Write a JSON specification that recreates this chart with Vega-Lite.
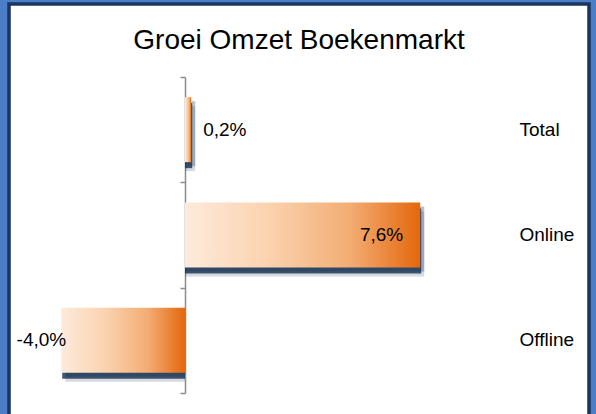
{
  "$schema": "https://vega.github.io/schema/vega-lite/v6.json",
  "width": 580,
  "height": 420,
  "autosize": {"type": "none"},
  "padding": {"left": 9, "top": 4, "right": 7, "bottom": -10},
  "background": "#4a7fc8",
  "title": {
    "text": "Groei Omzet Boekenmarkt",
    "anchor": "middle",
    "frame": "group",
    "baseline": "alphabetic",
    "offset": -73,
    "fontSize": 28,
    "font": "Liberation Sans",
    "fontWeight": "normal",
    "color": "#000000"
  },
  "data": {
    "values": [
      {"segment": "Total", "growth": 0.002},
      {"segment": "Online", "growth": 0.076},
      {"segment": "Offline", "growth": -0.04}
    ]
  },
  "resolve": {"axis": {"y": "independent"}},
  "layer": [
    {
      "mark": {"type": "bar", "color": "#17375e", "opacity": 0.18, "height": {"band": 0.617}, "xOffset": 4, "yOffset": 9},
      "encoding": {
        "y": {"field": "segment", "type": "nominal", "sort": ["Total", "Online", "Offline"], "scale": {"range": [73, 389], "paddingInner": 0, "paddingOuter": 0}, "axis": null},
        "x": {"field": "growth", "type": "quantitative", "stack": null, "scale": {"domain": [-0.05687, 0.13053], "nice": false, "zero": false}, "axis": null}
      }
    },
    {
      "mark": {"type": "bar", "color": "#17375e", "opacity": 0.3, "height": {"band": 0.617}, "xOffset": 4, "yOffset": 4},
      "encoding": {
        "y": {"field": "segment", "type": "nominal", "sort": ["Total", "Online", "Offline"], "axis": null},
        "x": {"field": "growth", "type": "quantitative", "stack": null, "axis": null}
      }
    },
    {
      "mark": {"type": "bar", "color": "#16304f", "opacity": 0.8, "height": {"band": 0.617}, "xOffset": 1, "yOffset": 6},
      "encoding": {
        "y": {"field": "segment", "type": "nominal", "sort": ["Total", "Online", "Offline"], "axis": null},
        "x": {"field": "growth", "type": "quantitative", "stack": null, "axis": null}
      }
    },
    {
      "mark": {
        "type": "bar",
        "height": {"band": 0.617},
        "color": {
          "gradient": "linear",
          "x1": 0, "y1": 0, "x2": 1, "y2": 0,
          "stops": [
            {"offset": 0, "color": "#fdeadb"},
            {"offset": 0.35, "color": "#fbd3b0"},
            {"offset": 0.7, "color": "#f3ad74"},
            {"offset": 1, "color": "#e4670c"}
          ]
        }
      },
      "encoding": {
        "y": {
          "field": "segment", "type": "nominal", "sort": ["Total", "Online", "Offline"],
          "axis": {
            "orient": "left", "offset": -176, "labels": false, "title": null, "grid": false,
            "domainColor": "#8c8c8c", "domainWidth": 1.5, "tickColor": "#8c8c8c", "tickWidth": 1.5,
            "tickSize": 5, "tickBand": "extent"
          }
        },
        "x": {"field": "growth", "type": "quantitative", "stack": null, "axis": null}
      }
    },
    {
      "mark": {"type": "text", "opacity": 0},
      "encoding": {
        "y": {
          "field": "segment", "type": "nominal", "sort": ["Total", "Online", "Offline"],
          "axis": {
            "orient": "right", "offset": -70, "domain": false, "ticks": false, "tickSize": 0,
            "labelPadding": 0, "labelFontSize": 19, "labelFont": "Liberation Sans", "labelColor": "#000000",
            "title": null, "grid": false
          }
        },
        "x": {"field": "growth", "type": "quantitative", "axis": null},
        "text": {"field": "segment", "type": "nominal"}
      }
    },
    {
      "transform": [{"filter": "datum.segment === 'Total'"}],
      "mark": {"type": "text", "align": "left", "dx": 12, "fontSize": 19, "font": "Liberation Sans", "color": "#000000"},
      "encoding": {
        "y": {"field": "segment", "type": "nominal", "sort": ["Total", "Online", "Offline"], "axis": null},
        "x": {"field": "growth", "type": "quantitative", "axis": null},
        "text": {"field": "growth", "type": "quantitative", "format": ".1%"}
      }
    },
    {
      "transform": [{"filter": "datum.segment === 'Online'"}],
      "mark": {"type": "text", "align": "right", "dx": -17, "fontSize": 19, "font": "Liberation Sans", "color": "#000000"},
      "encoding": {
        "y": {"field": "segment", "type": "nominal", "sort": ["Total", "Online", "Offline"], "axis": null},
        "x": {"field": "growth", "type": "quantitative", "axis": null},
        "text": {"field": "growth", "type": "quantitative", "format": ".1%"}
      }
    },
    {
      "transform": [{"filter": "datum.segment === 'Offline'"}],
      "mark": {"type": "text", "align": "right", "dx": 5, "fontSize": 19, "font": "Liberation Sans", "color": "#000000"},
      "encoding": {
        "y": {"field": "segment", "type": "nominal", "sort": ["Total", "Online", "Offline"], "axis": null},
        "x": {"field": "growth", "type": "quantitative", "axis": null},
        "text": {"field": "growth", "type": "quantitative", "format": ".1%"}
      }
    }
  ],
  "config": {
    "view": {"fill": "#ffffff", "stroke": "#1c355e", "strokeWidth": 3.5},
    "locale": {
      "number": {"decimal": ",", "thousands": ".", "grouping": [3], "currency": ["€", ""], "minus": "-"}
    }
  }
}
